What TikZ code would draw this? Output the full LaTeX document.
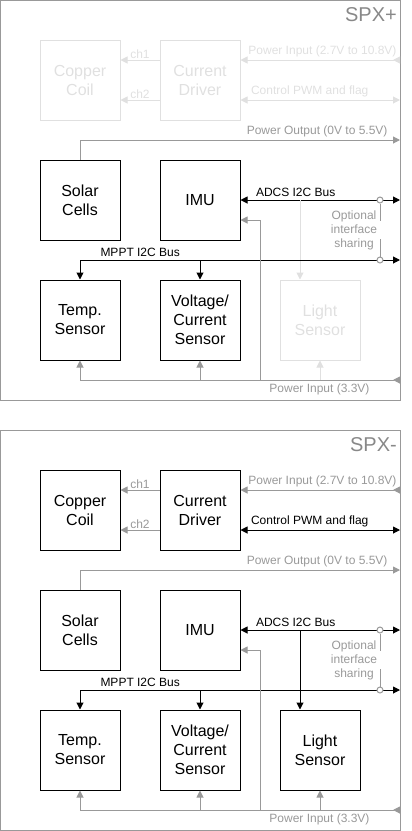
\documentclass[tikz,border=0pt]{standalone}
\usepackage{fontspec}
\setmainfont{Liberation Sans}
\usetikzlibrary{arrows.meta}

\definecolor{grayc}{HTML}{999999}
\definecolor{fadec}{HTML}{E0E0E0}
\definecolor{titlec}{HTML}{888888}

\tikzset{
  blk/.style={draw, line width=1pt, minimum width=80pt, minimum height=80pt,
    inner sep=0pt, align=center, font=\fontsize{16}{19}\selectfont},
  lbl/.style={inner sep=1pt, font=\fontsize{12}{14}\selectfont},
  wire/.style={line width=1pt},
  onearrow/.style={-{Triangle[length=7pt,width=7pt]}},
  twoarrow/.style={{Triangle[length=7pt,width=7pt]}-{Triangle[length=7pt,width=7pt]}},
  inarrow/.style={{Triangle[reversed,length=7pt,width=7pt]}-{Triangle[length=7pt,width=7pt]}},
  joint/.style={circle, draw=grayc, fill=white, line width=1pt, inner sep=0pt, minimum size=6pt},
}

\begin{document}
\begin{tikzpicture}[x=1pt, y=-1pt]

\useasboundingbox (0,0) rectangle (412,831);

% one panel per board side (faded parts are not fitted on SPX+)
\foreach \oy/\nm/\ttl/\dc/\dl/\dw in {0/p/SPX+/fadec/fadec/fadec, 430/m/SPX-/black/grayc/black} {

  % Board outline and title
  \draw[grayc, line width=1pt] (0.5,0.5+\oy) rectangle (400.5,400.5+\oy);
  \node[anchor=east, inner sep=0pt, text=titlec, font=\fontsize{20}{24}\selectfont] (ttl\nm) at (397,15+\oy) {\ttl};

  % Blocks
  \node[blk, draw=\dc, text=\dc] (coil\nm) at (80,80+\oy) {Copper\\Coil};
  \node[blk, draw=\dc, text=\dc] (drv\nm) at (200,80+\oy) {Current\\Driver};
  \node[blk] (solar\nm) at (80,200+\oy) {Solar\\Cells};
  \node[blk] (imu\nm) at (200,200+\oy) {IMU};
  \node[blk] (temp\nm) at (80,320+\oy) {Temp.\\Sensor};
  \node[blk] (volt\nm) at (200,320+\oy) {Voltage/\\Current\\Sensor};
  \node[blk, draw=\dc, text=\dc] (light\nm) at (320,320+\oy) {Light\\Sensor};

  % Connector points on the board edge
  \coordinate (vin\nm) at (400,60+\oy);
  \coordinate (pwm\nm) at (400,100+\oy);
  \coordinate (vout\nm) at (400,140+\oy);
  \coordinate (adcs\nm) at (400,200+\oy);
  \coordinate (mppt\nm) at (400,260+\oy);
  \coordinate (v33\nm) at (400,380+\oy);
  \coordinate (ipw\nm) at (260,220+\oy);
  \coordinate (ga\nm) at (380,221+\oy);
  \coordinate (gb\nm) at (380,239+\oy);

  % Magnetorquer
  \draw[wire, onearrow, \dl] ([yshift=20pt]drv\nm.west) -- node[lbl, above, text=\dl] {ch1} ([yshift=20pt]coil\nm.east);
  \draw[wire, onearrow, \dl] ([yshift=-20pt]drv\nm.west) -- node[lbl, above, text=\dl] {ch2} ([yshift=-20pt]coil\nm.east);
  \draw[wire, inarrow, \dl] (vin\nm) -- node[lbl, pos=0, anchor=south east, xshift=-2pt, yshift=2pt, text=\dl] {Power Input (2.7V to 10.8V)} ([yshift=20pt]drv\nm.east);
  \draw[wire, twoarrow, \dw] ([yshift=-20pt]drv\nm.east) -- node[lbl, pos=0, anchor=south west, xshift=9pt, yshift=2pt, text=\dw] {Control PWM and flag} (pwm\nm);

  % Solar power out
  \draw[wire, onearrow, grayc] (solar\nm.north) -- (solar\nm.north |- vout\nm) -- node[lbl, pos=1, anchor=south east, xshift=-11pt, yshift=2pt, text=grayc] {Power Output (0V to 5.5V)} (vout\nm);

  % I2C buses
  \draw[wire, twoarrow] (imu\nm.east) -- node[lbl, pos=0, anchor=south west, xshift=14pt, yshift=2pt] {ADCS I2C Bus} (adcs\nm);
  \draw[wire, onearrow, \dw] ([xshift=-20pt]light\nm.north |- adcs\nm) -- ([xshift=-20pt]light\nm.north);
  \draw[wire, twoarrow] (temp\nm.north) -- (temp\nm.north |- mppt\nm) -- node[lbl, pos=0, anchor=south west, xshift=19pt, yshift=2pt] {MPPT I2C Bus} (mppt\nm);
  \draw[wire, onearrow] (volt\nm.north |- mppt\nm) -- (volt\nm.north);

  % 3.3V supply
  \draw[wire, inarrow, grayc] (v33\nm) -- node[lbl, pos=0, anchor=north east, xshift=-29pt, yshift=-2pt, text=grayc] {Power Input (3.3V)} (temp\nm.south |- v33\nm) -- (temp\nm.south);
  \draw[wire, onearrow, grayc] (volt\nm.south |- v33\nm) -- (volt\nm.south);
  \draw[wire, onearrow, \dl] (light\nm.south |- v33\nm) -- (light\nm.south);
  \draw[wire, onearrow, grayc] (ipw\nm |- v33\nm) -- (ipw\nm) -- (imu\nm.east |- ipw\nm);

  % Optional interface sharing
  \node[joint] (oa\nm) at (380,200+\oy) {};
  \node[joint] (ob\nm) at (380,260+\oy) {};
  \node[lbl, align=center, text=grayc] (opt\nm) at (354,230+\oy) {Optional\\interface\\sharing};
  \draw[wire, grayc] (oa\nm) -- (ga\nm);
  \draw[wire, grayc] (gb\nm) -- (ob\nm);
}

\end{tikzpicture}
\end{document}
